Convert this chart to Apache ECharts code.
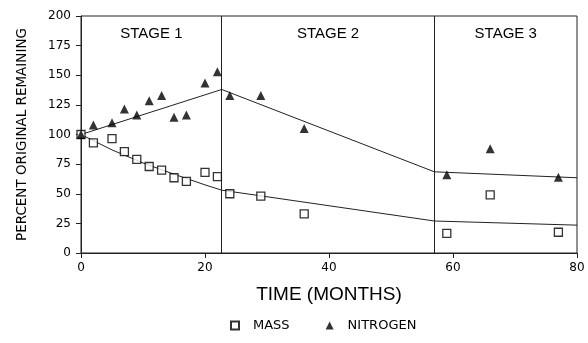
<!DOCTYPE html>
<html><head><meta charset="utf-8">
<script src="https://cdn.jsdelivr.net/npm/echarts@6/dist/echarts.min.js"></script>
<style>html,body{margin:0;padding:0;background:#fff}#c{width:588px;height:343px}</style>
</head><body><div id="c"></div>
<script>
// Observed data (months, percent original remaining)
const massMonths = [0, 2, 5, 7, 9, 11, 13, 15, 17, 20, 22, 24, 29, 36, 59, 66, 77];
const massValues = [100, 93, 96.5, 85.5, 79, 73, 70, 63.5, 60.5, 68, 64.5, 50, 48, 33, 16.5, 49, 17.5];
const nitroMonths = [0, 2, 5, 7, 9, 11, 13, 15, 17, 20, 22, 24, 29, 36, 59, 66, 77];
const nitroValues = [100, 108, 110, 121.5, 116.5, 128.5, 133, 114.5, 116.5, 143.5, 153, 133, 133, 105, 66, 88, 64];
// Fitted model lines
const massFitMonths = [0, 5, 10, 15, 20, 22.7, 57, 80];
const massFitValues = [100, 87, 76, 66.5, 57.5, 53, 27, 23.5];
const nitroFitMonths = [0, 22.7, 57, 80];
const nitroFitValues = [100, 138, 68.5, 63.5];
// Stage boundaries and labels
const stageBounds = [0, 22.7, 57, 80];
const stageNames = ['STAGE 1', 'STAGE 2', 'STAGE 3'];
const xTicks = [0, 20, 40, 60, 80];
const yTicks = [0, 25, 50, 75, 100, 125, 150, 175, 200];

const zip = (a, b) => a.map((v, i) => [v, b[i]]);
const font = '"Liberation Sans", Arial, sans-serif';
const wide = '"DejaVu Sans", Verdana, sans-serif';

const chart = echarts.init(document.getElementById('c'));
chart.setOption({
  animation: false,
  backgroundColor: '#fff',
  grid: { left: 81, right: 11, top: 16, bottom: 90, show: true, borderColor: '#222', borderWidth: 1 },
  xAxis: {
    type: 'value', min: xTicks[0], max: xTicks[xTicks.length - 1], interval: 20,
    name: 'TIME (MONTHS)', nameLocation: 'middle', nameGap: 32,
    nameTextStyle: { fontFamily: font, fontSize: 19, color: '#000' },
    axisLine: { lineStyle: { color: '#222', width: 1 } },
    axisTick: { show: true, length: 5, lineStyle: { color: '#222' } },
    axisLabel: { fontFamily: wide, fontSize: 12, color: '#000', margin: 9 },
    splitLine: { show: false }
  },
  yAxis: {
    type: 'value', min: yTicks[0], max: yTicks[yTicks.length - 1], interval: 25,
    name: 'PERCENT ORIGINAL REMAINING', nameLocation: 'middle', nameGap: 52,
    nameTextStyle: { fontFamily: wide, fontSize: 13.5, color: '#000' },
    axisLine: { show: true, lineStyle: { color: '#222', width: 1 } },
    axisTick: { show: true, length: 5, lineStyle: { color: '#222' } },
    axisLabel: { fontFamily: wide, fontSize: 12, color: '#000', margin: 10 },
    splitLine: { show: false }
  },
  legend: {
    top: 314, left: 225, itemGap: 36, itemWidth: 8, itemHeight: 8,
    textStyle: { fontFamily: wide, fontSize: 13, color: '#000', padding: [0, 0, 0, 9] },
    data: ['MASS', 'NITROGEN']
  },
  series: [
    {
      name: 'MASS', type: 'scatter', data: zip(massMonths, massValues),
      symbol: 'rect', symbolSize: 8,
      itemStyle: { color: '#fff', borderColor: '#000', borderWidth: 1.3 }, z: 5
    },
    {
      name: 'NITROGEN', type: 'scatter', data: zip(nitroMonths, nitroValues),
      symbol: 'triangle', symbolSize: 9,
      itemStyle: { color: '#000' }, z: 5
    },
    {
      name: 'massFit', type: 'line', data: zip(massFitMonths, massFitValues),
      showSymbol: false, smooth: false, lineStyle: { color: '#222', width: 1 }, z: 3,
      markArea: {
        silent: true,
        itemStyle: { color: 'rgba(0,0,0,0)' },
        label: { show: true, position: 'insideTop', distance: 10, fontFamily: font, fontSize: 15, color: '#000' },
        data: stageNames.map((n, i) => [{ name: n, xAxis: stageBounds[i] }, { xAxis: stageBounds[i + 1] }])
      },
      markLine: {
        silent: true, symbol: 'none', label: { show: false },
        lineStyle: { color: '#222', width: 1, type: 'solid' },
        data: stageBounds.slice(1, 3).map(v => ({ xAxis: v }))
      }
    },
    {
      name: 'nitroFit', type: 'line', data: zip(nitroFitMonths, nitroFitValues),
      showSymbol: false, lineStyle: { color: '#222', width: 1 }, z: 3
    }
  ]
});
</script></body></html>
